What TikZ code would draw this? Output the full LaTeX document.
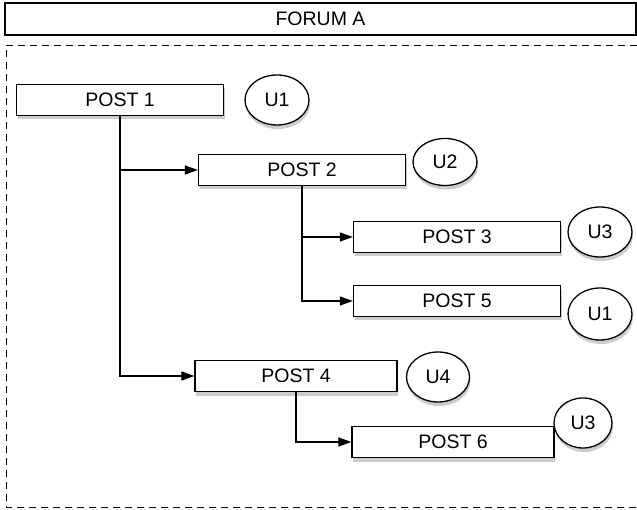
\documentclass[tikz,border=0pt]{standalone}
\usepackage{fontspec}
\setmainfont{Liberation Sans}
\usetikzlibrary{shadows,shapes.geometric,arrows.meta}

\begin{document}
\begin{tikzpicture}[x=1pt,y=-1pt,
  post/.style={draw=black,fill=white,line width=1.3pt,minimum width=207pt,minimum height=31pt,inner sep=0pt,
    drop shadow={shadow xshift=1pt,shadow yshift=-4pt,opacity=0.4},font=\fontsize{19.5}{21}\selectfont},
  user/.style={draw=black,fill=white,ellipse,line width=1.3pt,minimum width=64pt,minimum height=50pt,inner sep=0pt,
    drop shadow={shadow xshift=1pt,shadow yshift=-4pt,opacity=0.4},font=\fontsize{19.5}{21}\selectfont},
  link/.style={line width=1.2pt,-{Triangle[length=13pt,width=9pt]}}]
\useasboundingbox (0,0) rectangle (637,510);
% forum header and thread frame
\node[draw=black,line width=1.3pt,minimum width=631pt,minimum height=32pt,inner sep=0pt,
  font=\fontsize{19.5}{21}\selectfont] (forum) at (320.5,19) {FORUM A};
\draw[line width=0.9pt,dash pattern=on 7pt off 5pt] (637,45) -- (6,45) -- (6,507) -- (637,507);
% posts
\node[post] (p1) at (120,100) {POST 1};
\node[post] (p2) at (302,170) {POST 2};
\node[post] (p3) at (457,237) {POST 3};
\node[post] (p5) at (457,301) {POST 5};
\node[post,minimum width=202pt] (p4) at (296,376) {POST 4};
\node[post,minimum width=202pt] (p6) at (453,442) {POST 6};
% users
\node[user] (u1) at (277,100) {U1};
\node[user,minimum height=47pt] (u2) at (445,162) {U2};
\node[user] (u3) at (600,232) {U3};
\node[user,minimum height=52pt] (u1b) at (600,314) {U1};
\node[user,minimum width=63pt] (u4) at (438,377) {U4};
\node[user,minimum width=58pt] (u3b) at (583,423) {U3};
% replies
\draw[link] (p1.south) |- (p2.west);
\draw[link] (p1.south) |- (p4.west);
\draw[link] (p2.south) |- (p3.west);
\draw[link] (p2.south) |- (p5.west);
\draw[link] (p4.south) |- (p6.west);
\end{tikzpicture}
\end{document}
